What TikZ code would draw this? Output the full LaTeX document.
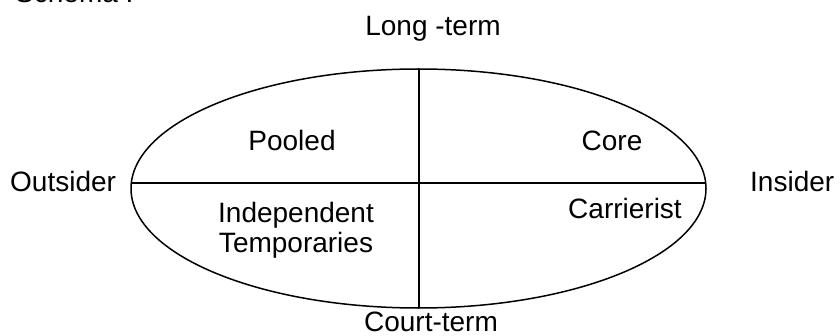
\documentclass[tikz,border=0pt]{standalone}
\usepackage{fontspec}
\setmainfont{Liberation Sans}
\begin{document}
\begin{tikzpicture}[x=1pt,y=1pt,
  lbl/.style={inner sep=0pt, font=\fontsize{28}{30}\selectfont},
  ln/.style={line width=1.5pt, black}]
\useasboundingbox (0,0) rectangle (840,335);
% ellipse and axes
\draw[ln] (418.5,146.5) ellipse [x radius=287.5, y radius=119.5];
\coordinate (hl) at (131.3,152);
\coordinate (hr) at (705.7,152);
\coordinate (vt) at (419,266);
\coordinate (vb) at (419,27);
\draw[ln] (hl) -- (hr);
\draw[ln] (vt) -- (vb);
% labels
\node[lbl, anchor=base west] (schema) at (15,332) {Schema I};
\node[lbl, anchor=base] (long) at (433,299) {Long -term};
\node[lbl, anchor=base west] (out) at (10,143.3) {Outsider};
\node[lbl, anchor=base west] (ins) at (750,143.3) {Insider};
\node[lbl, anchor=base] (pool) at (292,184) {Pooled};
\node[lbl, anchor=base] (core) at (612,184) {Core};
\node[lbl, anchor=base] (carr) at (625,117) {Carrierist};
\node[lbl, anchor=base, align=center] (indep) at (296,83) {Independent\\Temporaries};
\node[lbl, anchor=base] (court) at (431,4) {Court-term};
\end{tikzpicture}
\end{document}
